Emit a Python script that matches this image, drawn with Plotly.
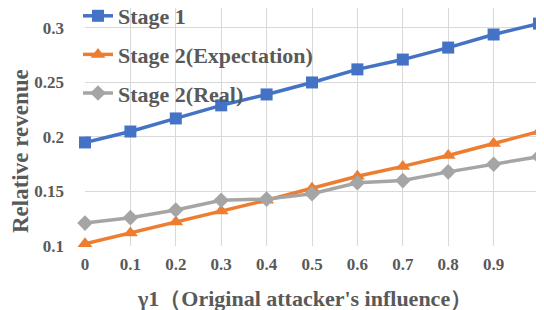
import plotly.graph_objects as go

x_vals = [0, 0.1, 0.2, 0.3, 0.4, 0.5, 0.6, 0.7, 0.8, 0.9, 1]
x_labels = ["0", "0.1", "0.2", "0.3", "0.4", "0.5", "0.6", "0.7", "0.8", "0.9", "1"]
stage1 = [0.195, 0.205, 0.217, 0.229, 0.239, 0.250, 0.262, 0.271, 0.282, 0.294, 0.304]
stage2_exp = [0.102, 0.112, 0.122, 0.132, 0.142, 0.153, 0.164, 0.173, 0.183, 0.194, 0.205]
stage2_real = [0.121, 0.126, 0.133, 0.142, 0.143, 0.148, 0.158, 0.160, 0.168, 0.175, 0.182]
y_ticks = [0.1, 0.15, 0.2, 0.25, 0.3]
y_labels = ["0.1", "0.15", "0.2", "0.25", "0.3"]
x_title = "γ1（Original attacker's influence）"
y_title = "Relative revenue"

font_family = "Liberation Serif"
text_color = "#595959"

def b(s):
    return "<b>%s</b>" % s

fig = go.Figure()
series = [
    ("Stage 1", stage1, "#4472C4", "square", 12),
    ("Stage 2(Expectation)", stage2_exp, "#ED7D31", "triangle-up", 13),
    ("Stage 2(Real)", stage2_real, "#A5A5A5", "diamond", 12),
]
for i, (name, ys, color, sym, sz) in enumerate(series):
    fig.add_trace(go.Scatter(
        x=x_vals, y=ys, name=b(name), mode="lines+markers",
        line=dict(color=color, width=3.5),
        marker=dict(symbol=sym, size=sz, color=color),
        cliponaxis=False, legendgroup=f"g{i}",
    ))

W, H = 536, 302
L, R, T, B = 77, 5, 0, 64
plot_w = W - L - R
plot_h = H - T - B

fig.update_layout(
    width=W, height=H,
    margin=dict(l=L, r=R, t=T, b=B, autoexpand=False),
    paper_bgcolor="white", plot_bgcolor="white",
    font=dict(family=font_family, color=text_color),
    showlegend=True,
    legend=dict(
        x=-7 / plot_w, y=1 + 13 / plot_h, xanchor="left", yanchor="top",
        bgcolor="rgba(0,0,0,0)",
        font=dict(size=22, family=font_family, color=text_color),
        tracegroupgap=7,
        itemwidth=30,
    ),
    annotations=[
        dict(text=b(x_title), xref="paper", yref="paper",
             x=(296 - L) / plot_w, y=(plot_h - 290) / plot_h,
             xanchor="center", yanchor="middle", showarrow=False,
             font=dict(size=22, family=font_family, color=text_color)),
        dict(text=b(y_title), xref="paper", yref="paper", textangle=-90,
             x=(12 - L) / plot_w, y=(plot_h - 143) / plot_h,
             xanchor="center", yanchor="middle", showarrow=False,
             font=dict(size=23, family=font_family, color=text_color)),
    ],
)
fig.update_xaxes(
    range=[0, 1], tickvals=x_vals, ticktext=[b(t) for t in x_labels],
    showgrid=True, gridcolor="#D9D9D9", gridwidth=1, automargin=False,
    showline=False, zeroline=False, ticks="", ticklabelstandoff=6,
    ticklabeloverflow="allow",
    tickfont=dict(size=17, family=font_family, color=text_color),
)
fig.update_yaxes(
    range=[0.1, 0.3183], tickvals=y_ticks, ticktext=[b(t) for t in y_labels],
    showgrid=True, gridcolor="#D9D9D9", gridwidth=1, automargin=False,
    showline=False, zeroline=False, ticks="", ticklabelstandoff=20,
    tickfont=dict(size=17, family=font_family, color=text_color),
)

fig.write_html("out.html")
